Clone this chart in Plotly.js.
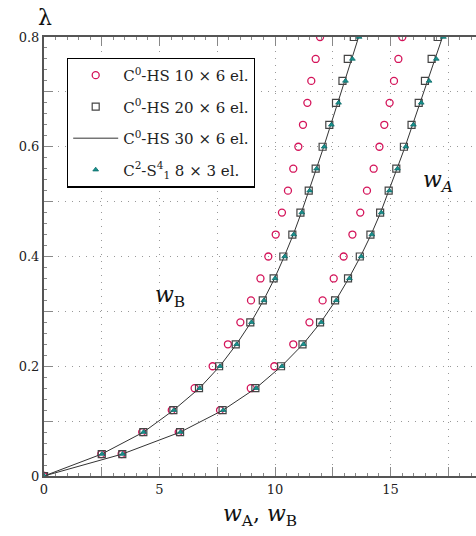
<!DOCTYPE html>
<html><head><meta charset="utf-8">
<script src="https://cdn.plot.ly/plotly-3.0.1.min.js"></script>
<style>html,body{margin:0;padding:0;background:#fff;}#chart{width:476px;height:536px;}</style>
</head><body><div id="chart"></div>
<script>
const lambda = [0,0.04,0.08,0.12,0.16,0.20,0.24,0.28,0.32,0.36,0.40,0.44,0.48,0.52,0.56,0.60,0.64,0.68,0.72,0.76,0.80];
// w_B (left curve)
const wB_10x6 = [0,2.48,4.25,5.53,6.52,7.30,7.96,8.50,8.96,9.37,9.71,10.03,10.30,10.56,10.79,11.01,11.21,11.40,11.57,11.76,11.95];
const wB_20x6 = [0,2.50,4.30,5.60,6.71,7.58,8.30,8.93,9.47,9.94,10.36,10.75,11.10,11.46,11.76,12.06,12.35,12.64,12.92,13.15,13.41];
const wB_30x6 = [0,2.50,4.31,5.61,6.73,7.61,8.33,8.96,9.50,9.98,10.40,10.79,11.14,11.48,11.79,12.11,12.42,12.72,13.02,13.32,13.62];
const wB_C2 = [0,2.51,4.31,5.62,6.74,7.62,8.34,8.98,9.52,10.00,10.42,10.81,11.16,11.50,11.80,12.13,12.44,12.75,13.05,13.35,13.64];
// w_A (right curve)
const wA_10x6 = [0,3.36,5.83,7.62,8.95,9.97,10.79,11.49,12.06,12.54,12.97,13.35,13.69,13.98,14.27,14.52,14.73,14.96,15.15,15.34,15.51];
const wA_20x6 = [0,3.39,5.89,7.73,9.15,10.26,11.19,11.95,12.60,13.16,13.67,14.13,14.55,14.92,15.25,15.58,15.91,16.22,16.49,16.78,17.04];
const wA_30x6 = [0,3.39,5.90,7.75,9.17,10.28,11.21,11.98,12.63,13.19,13.70,14.16,14.57,14.94,15.28,15.63,15.96,16.29,16.61,16.93,17.25];
const wA_C2 = [0,3.40,5.91,7.76,9.18,10.30,11.23,12.00,12.65,13.22,13.73,14.19,14.60,14.95,15.30,15.66,15.99,16.33,16.67,16.98,17.29];

const names = ["C<sup>0</sup>-HS 10 × 6 el.","C<sup>0</sup>-HS 20 × 6 el.","C<sup>0</sup>-HS 30 × 6 el.","C<sup>2</sup>-S<sup>4</sup><sub>1</sub> 8 × 3 el."];
const xTickVals = [0,2.5,5,7.5,10,12.5,15,17.5];
const xTickText = ["0","","5","","10","","15",""];
const yTickVals = [0,0.1,0.2,0.3,0.4,0.5,0.6,0.7,0.8];
const yTickText = ["0","","0.2","","0.4","","0.6","","0.8"];

const red = "#d4145a", gray = "#444", teal = "#17928f", lineC = "#333";
const circle = {symbol:"circle-open", size:7, color:red, line:{width:1.3,color:red}};
const square = {symbol:"square-open", size:7, color:gray, line:{width:1.2,color:gray}};
const tri = {symbol:"triangle-up", size:5, color:teal, line:{width:0.8,color:"#0d6b68"}};

const traces = [
 {x:wB_10x6, y:lambda, mode:"markers", marker:circle, name:names[0], legendgroup:"a", legendrank:1},
 {x:wA_10x6, y:lambda, mode:"markers", marker:circle, name:names[0], legendgroup:"a", showlegend:false},
 {x:wB_30x6, y:lambda, mode:"lines", line:{color:lineC,width:1}, name:names[2], legendgroup:"c", legendrank:3},
 {x:wA_30x6, y:lambda, mode:"lines", line:{color:lineC,width:1}, name:names[2], legendgroup:"c", showlegend:false},
 {x:wB_20x6, y:lambda, mode:"markers", marker:square, name:names[1], legendgroup:"b", legendrank:2},
 {x:wA_20x6, y:lambda, mode:"markers", marker:square, name:names[1], legendgroup:"b", showlegend:false},
 {x:wB_C2, y:lambda, mode:"markers", marker:tri, name:names[3], legendgroup:"d", legendrank:4},
 {x:wA_C2, y:lambda, mode:"markers", marker:tri, name:names[3], legendgroup:"d", showlegend:false}
];

const fnt = "DejaVu Serif, Liberation Serif, serif";
const layout = {
 width:476, height:536,
 margin:{l:44, r:0, t:37, b:60},
 paper_bgcolor:"#fff", plot_bgcolor:"#fff",
 font:{family:fnt, size:13, color:"#222"},
 showlegend:true,
 legend:{x:0.053, y:0.953, xanchor:"left", yanchor:"top", bgcolor:"#fff", bordercolor:"#000", borderwidth:1.3,
   font:{family:fnt, size:15, color:"#222"}, tracegroupgap:9, itemwidth:45, traceorder:"grouped"},
 xaxis:{range:[0,18.7], tickmode:"array", tickvals:xTickVals, ticktext:xTickText, ticks:"inside", ticklen:9, tickwidth:1, tickcolor:"#888",
   showline:true, linewidth:2, linecolor:"#555", mirror:"allticks", showgrid:true, gridcolor:"#999", griddash:"1px,6px", gridwidth:1, zeroline:false,
   minor:{tickmode:"linear", tick0:0, dtick:0.5, ticks:"inside", ticklen:3, tickcolor:"#888", showgrid:false},
   tickfont:{family:fnt, size:13, color:"#222"},
   title:{text:"<i>w</i><sub>A</sub>, <i>w</i><sub>B</sub>", font:{family:fnt, size:22, color:"#111"}, standoff:10}},
 yaxis:{range:[0,0.8], tickmode:"array", tickvals:yTickVals, ticktext:yTickText, ticks:"inside", ticklen:9, tickwidth:1, tickcolor:"#888",
   showline:true, linewidth:2, linecolor:"#555", mirror:false, showgrid:true, gridcolor:"#999", griddash:"1px,6px", gridwidth:1, zeroline:false,
   minor:{tickmode:"linear", tick0:0, dtick:0.02, ticks:"inside", ticklen:3, tickcolor:"#888", showgrid:false},
   tickfont:{family:fnt, size:13, color:"#222"}},
 annotations:[
   {text:"λ", xref:"paper", yref:"paper", x:0.002, y:1.044, xanchor:"center", yanchor:"middle", showarrow:false, font:{family:fnt, size:22, color:"#111"}},
   {text:"<i>w</i><sub>B</sub>", xref:"paper", yref:"paper", x:0.292, y:0.41, xanchor:"center", yanchor:"middle", showarrow:false, font:{family:fnt, size:22, color:"#111"}},
   {text:"<i>w</i><sub><i>A</i></sub>", xref:"paper", yref:"paper", x:0.912, y:0.67, xanchor:"center", yanchor:"middle", showarrow:false, font:{family:fnt, size:22, color:"#111"}}
 ]
};
Plotly.newPlot("chart", traces, layout, {displayModeBar:false, staticPlot:true});
</script></body></html>
